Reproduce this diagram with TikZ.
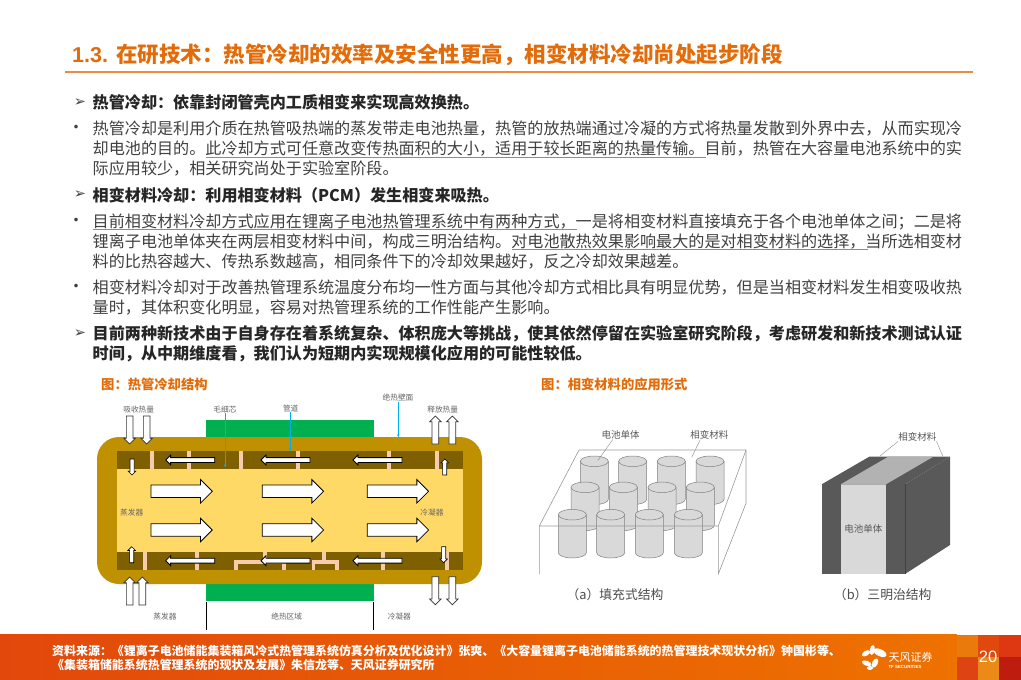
\documentclass[tikz,border=0pt]{standalone}
\usepackage{fontspec}
\usepackage{xcolor}
\setmainfont{Noto Sans CJK SC}
\newfontfamily\symfont{DejaVu Sans}
\newfontfamily\pagefont{Liberation Sans}
\usetikzlibrary{shapes.arrows,arrows.meta}
\definecolor{tf-orange}{HTML}{E36C0A}
\definecolor{tf-rule}{HTML}{F08A3C}
\definecolor{body-gray}{HTML}{404040}
\definecolor{pipe-shell}{HTML}{BF9000}
\definecolor{pipe-wick}{HTML}{7F6000}
\definecolor{pipe-core}{HTML}{FFD966}
\definecolor{pipe-green}{HTML}{00B050}
\definecolor{pipe-bar}{HTML}{F8CBAD}
\definecolor{pipe-blue}{HTML}{00B0F0}
\definecolor{foot-left}{HTML}{E2480B}
\definecolor{foot-right}{HTML}{EE7200}
\tikzset{
    body-line/.style = {anchor=west, inner sep=0pt, text=body-gray, font=\fontsize{16.1}{18}\selectfont},
    head-line/.style = {body-line, text=black!85, font=\fontsize{16.1}{18}\selectfont\bfseries},
    head-mark/.style = {anchor=center, inner sep=0pt, text=black!75, font=\symfont\fontsize{14.5}{15}\selectfont},
    body-mark/.style = {anchor=center, inner sep=0pt, text=body-gray, font=\fontsize{17}{18}\selectfont},
    under-line/.style = {draw=black!45, line width=1pt},
    fig-title/.style = {anchor=west, inner sep=0pt, text=tf-orange, font=\fontsize{13.3}{15}\selectfont\bfseries},
    tiny-label/.style = {inner sep=0pt, text=black!60, font=\fontsize{7.7}{9}\selectfont},
    part-label/.style = {inner sep=0pt, text=black!65, font=\fontsize{9.5}{11}\selectfont},
    part-caption/.style = {inner sep=0pt, text=black!70, font=\fontsize{12.8}{14}\selectfont},
    foot-line/.style = {anchor=west, inner sep=0pt, text=white, font=\fontsize{11.95}{13}\selectfont\bfseries},
    big-flow/.style = {single arrow, anchor=tail, draw=black, fill=white, line width=.8pt, inner xsep=0pt, inner ysep=5.85pt, outer sep=0pt,
        minimum height=61.3pt, single arrow head extend=5.5pt},
    mid-flow/.style = {single arrow, anchor=tail, rotate=180, draw=black, fill=white, line width=.8pt, inner xsep=0pt, inner ysep=2pt, outer sep=0pt,
        minimum height=49pt, single arrow head extend=2.5pt},
    small-flow/.style = {single arrow, anchor=tail, draw=black, fill=white, line width=.6pt, inner xsep=0pt, inner ysep=1.75pt, outer sep=0pt,
        minimum height=16pt, single arrow head extend=1.75pt},
    heat-flow/.style = {single arrow, anchor=tail, draw=black!80, fill=white, line width=.7pt, inner xsep=0pt, inner ysep=3pt, outer sep=0pt,
        minimum height=28pt, single arrow head extend=2.35pt},
    wick-bar/.style = {fill=pipe-bar},
    blue-lead/.style = {draw=pipe-blue, line width=.8pt, -{Stealth[length=3pt,width=2.5pt]}},
    cell-body/.style = {fill=black!15, draw=black!50, line width=.5pt},
    pcm-edge/.style = {draw=black!40, line width=.6pt},
    lead-line/.style = {draw=black!45, line width=.4pt},
}

\begin{document}
\begin{tikzpicture}[x=1pt,y=-1pt]
\useasboundingbox (0,0) rectangle (1021,680);
\fill[white] (0,0) rectangle (1021,680);

% title
\node[anchor=west, inner sep=0pt, text=tf-orange, font=\fontsize{21.5}{24}\selectfont\bfseries] (title) at (72,55) {{\pagefont 1.3. }在研技术：热管冷却的效率及安全性更高，相变材料冷却尚处起步阶段};
\fill[tf-rule] (65,70.6) rectangle (973,72.6);

% text block
\node[head-mark] (mark-a) at (80,102.5) {➢};
\node[head-line] (head-a) at (92.5,102.5) {热管冷却：依靠封闭管壳内工质相变来实现高效换热。};
\node[body-mark] (dot-a) at (76,129) {•};
\node[body-line] (line-a1) at (92.5,129) {热管冷却是利用介质在热管吸热端的蒸发带走电池热量，热管的放热端通过冷凝的方式将热量发散到外界中去，从而实现冷};
\node[body-line] (line-a2) at (92.5,148.6) {却电池的目的。此冷却方式可任意改变传热面积的大小，适用于较长距离的热量传输。目前，热管在大容量电池系统中的实};
\node[body-line] (line-a3) at (92.5,168.4) {际应用较少，相关研究尚处于实验室阶段。};
\draw[under-line] (205.5,157.2) -- (706,157.2);
\node[head-mark] (mark-b) at (80,195) {➢};
\node[head-line] (head-b) at (92.5,195) {相变材料冷却：利用相变材料（PCM）发生相变来吸热。};
\node[body-mark] (dot-b) at (76,222) {•};
\node[body-line] (line-b1) at (92.5,222) {目前相变材料冷却方式应用在锂离子电池热管理系统中有两种方式，一是将相变材料直接填充于各个电池单体之间；二是将};
\node[body-line] (line-b2) at (92.5,242) {锂离子电池单体夹在两层相变材料中间，构成三明治结构。对电池散热效果影响最大的是对相变材料的选择，当所选相变材};
\node[body-line] (line-b3) at (92.5,262) {料的比热容越大、传热系数越高，相同条件下的冷却效果越好，反之冷却效果越差。};
\draw[under-line] (92.5,229.4) -- (577,229.4);
\draw[under-line] (512,249.4) -- (867.6,249.4);
\node[body-mark] (dot-c) at (76,288) {•};
\node[body-line] (line-c1) at (92.5,288) {相变材料冷却对于改善热管理系统温度分布均一性方面与其他冷却方式相比具有明显优势，但是当相变材料发生相变吸收热};
\node[body-line] (line-c2) at (92.5,307.4) {量时，其体积变化明显，容易对热管理系统的工作性能产生影响。};
\node[head-mark] (mark-d) at (80,334) {➢};
\node[head-line] (head-d1) at (92.5,334) {目前两种新技术由于自身存在着系统复杂、体积庞大等挑战，使其依然停留在实验室研究阶段，考虑研发和新技术测试认证};
\node[head-line] (head-d2) at (92.5,353.4) {时间，从中期维度看，我们认为短期内实现规模化应用的可能性较低。};

\node[fig-title] (fig-pipe) at (101,384) {图：热管冷却结构};
\node[fig-title] (fig-pcm) at (541,384) {图：相变材料的应用形式};

% heat pipe
\fill[pipe-green] (206,420) rectangle (374,440);
\fill[pipe-green] (206,580) rectangle (374,600.7);
\fill[pipe-shell, rounded corners=22pt] (97,437) rectangle (482,584);
\fill[pipe-wick] (117,451) rectangle (463,570);
\fill[pipe-core] (117,469.3) rectangle (463,551.7);
\foreach \barx in {150,187.3,238.5,295.7,386.7,435}
    \fill[wick-bar] (\barx,451) rectangle ++(4,18.3);
\foreach \barx in {142.7,195.3,381,445}
    \fill[wick-bar] (\barx,551.7) rectangle ++(4,18.3);
\fill[wick-bar] (262.7,551.7) rectangle ++(4,8.3);
\fill[wick-bar] (322,551.7) rectangle ++(4,8.3);
\fill[wick-bar] (234,560) rectangle (285.5,564);
\fill[wick-bar] (311.5,560) rectangle (338.5,564);
\foreach \barx in {234,282,311.5,335}
    \fill[wick-bar] (\barx,564) rectangle ++(3.5,6);
\draw[draw=black, line width=.7pt] (206.7,601.7) -- (206.7,630);
\draw[draw=black, line width=.7pt] (373.5,601.7) -- (373.5,630);
\foreach \ax in {151,262.3,367.3} \foreach \ay in {491.3,530}
    \node[big-flow] (flow-\ax-\ay) at (\ax,\ay) {};
\foreach \ax in {214.7,310,402} \foreach \ay in {460,560.7}
    \node[mid-flow] (back-\ax-\ay) at (\ax,\ay) {};
\node[small-flow, rotate=270] (drop-a) at (132,459) {};
\node[small-flow, rotate=90] (rise-a) at (444.7,475) {};
\node[small-flow, rotate=90] (rise-b) at (131.7,562.7) {};
\node[small-flow, rotate=270] (drop-b) at (443.7,546.7) {};
\foreach \hx/\hy/\hrot in {129.7/416/270,146.7/416/270,435.3/444/90,452.3/444/90,129.7/605/90,142.3/605/90,435.3/576.7/270,452.3/576.7/270}
    \node[heat-flow, rotate=\hrot] (heat-\hx-\hy) at (\hx,\hy) {};

\node[tiny-label] (wick-label) at (225,409) {毛细芯};
\node[tiny-label] (duct-label) at (290.7,408.3) {管道};
\node[tiny-label] (wall-label) at (398,397.7) {绝热壁面};
\node[tiny-label] (heat-in) at (138.7,410) {吸收热量};
\node[tiny-label] (heat-out) at (442.7,410) {释放热量};
\node[tiny-label] (evap-in) at (131.7,512.7) {蒸发器};
\node[tiny-label] (cond-in) at (432,512.7) {冷凝器};
\node[tiny-label] (evap-out) at (165,616.7) {蒸发器};
\node[tiny-label] (adia-out) at (286.7,616.7) {绝热区域};
\node[tiny-label] (cond-out) at (399.3,616.7) {冷凝器};
\coordinate (wick-end) at (225,467.3);
\coordinate (duct-end) at (290.3,451);
\coordinate (wall-end) at (398.3,437.3);
\draw[blue-lead] (wick-label.south -| wick-end) -- (wick-end);
\draw[blue-lead] (duct-label.south -| duct-end) -- (duct-end);
\draw[blue-lead] (wall-label.south -| wall-end) -- (wall-end);

% filled structure
\foreach \cy/\cxlist in {461.3/{594.3,632.7,671.3,710},487.3/{585,623.3,662,700.3},514.7/{572.3,610.7,649.3,688.3}}
    \foreach \cx in \cxlist {
        \begin{scope}[shift={(\cx,\cy)}]
            \path[cell-body] (-14,0) -- (-14,38) arc[start angle=180, end angle=360, x radius=14pt, y radius=5.3pt] -- (14,0) -- cycle;
            \path[cell-body] (0,0) ellipse[x radius=14pt, y radius=5.3pt];
        \end{scope}
    }
\draw[pcm-edge] (539.3,574) -- (539.3,526) -- (718.3,526) -- (718.3,574) -- (746,503.3) -- (746,450) -- (579,450) -- (539.3,526);
\draw[pcm-edge] (718.3,526) -- (746,450);
\node[part-label] (cell-a) at (620.7,435) {电池单体};
\node[part-label] (pcm-a) at (709.3,435) {相变材料};
\coordinate (cell-a-end) at (597.7,460.7);
\coordinate (pcm-a-end) at (691.7,457.3);
\draw[lead-line] (cell-a.south) ++(-8,0) -- (cell-a-end);
\draw[lead-line] (pcm-a.south) ++(-9,0) -- (pcm-a-end);
\node[part-caption] (cap-a) at (615,595) {（a）填充式结构};

% sandwich structure
\fill[black!65] (905,484.3) -- (950,456.7) -- (950,545) -- (905,574) -- cycle;
\fill[black!65] (821.7,484.3) rectangle (905,574);
\fill[black!15] (840.7,484.3) rectangle (886,574);
\fill[black!65] (821.7,484.3) -- (869.3,456.7) -- (950,456.7) -- (905,484.3) -- cycle;
\fill[black!30] (840.7,484.3) -- (888.3,456.7) -- (933.3,456.7) -- (886,484.3) -- cycle;
\draw[black!75, line width=.4pt] (905,484.3) -- (905,574);
\node[part-label] (cell-b) at (863.3,529) {电池单体};
\node[part-label] (pcm-b) at (917.3,436.7) {相变材料};
\coordinate (pcm-b-left) at (880,456);
\coordinate (pcm-b-right) at (942.7,456);
\draw[lead-line] (pcm-b.south west) -- (pcm-b-left);
\draw[lead-line] (pcm-b.south east) -- (pcm-b-right);
\node[part-caption] (cap-b) at (882.7,594.3) {（b）三明治结构};

% footer
\shade[left color=foot-left, right color=foot-right] (0,634.5) rectangle (957,680);
\fill[fill={rgb,255:red,235;green,122;blue,12}] (957,634.5) rectangle (978,657.3);
\fill[fill={rgb,255:red,222;green,68;blue,19}] (957,657.3) rectangle (978,680);
\fill[fill={rgb,255:red,224;green,72;blue,14}] (978,634.5) rectangle (999.3,657.3);
\fill[fill={rgb,255:red,236;green,138;blue,24}] (978,657.3) rectangle (999.3,680);
\fill[fill={rgb,255:red,221;green,56;blue,18}] (999.3,634.5) rectangle (1021,657.3);
\fill[fill={rgb,255:red,191;green,28;blue,16}] (999.3,657.3) rectangle (1021,680);
\node[foot-line] (foot-a) at (52,651) {资料来源：《锂离子电池储能集装箱风冷式热管理系统仿真分析及优化设计》张爽、《大容量锂离子电池储能系统的热管理技术现状分析》钟国彬等、};
\node[foot-line] (foot-b) at (52,665) {《集装箱储能系统热管理系统的现状及发展》朱信龙等、天风证券研究所};
\foreach \px/\py/\prx/\pry/\prot in {872.3/650/2.5/5/-10,866/653.3/4.5/2.5/30,880/652.7/7/3.5/-25,866.7/663.3/5/2.5/-20,875/663/2.8/5/-25,870/668/3/2/0}
    \fill[white, rotate around={\prot:(\px,\py)}] (\px,\py) ellipse[x radius=\prx pt, y radius=\pry pt];
\node[inner sep=0pt, text=white, font=\fontsize{11}{12}\selectfont] (logo-cn) at (910.5,657) {天风证券};
\node[inner sep=0pt, text=white, font=\pagefont\fontsize{4.4}{5}\selectfont\bfseries] (logo-en) at (905,667.3) {TF SECURITIES};
\node[inner sep=0pt, text=white, font=\pagefont\fontsize{16.5}{18}\selectfont] (page-no) at (988,657) {20};
\end{tikzpicture}
\end{document}
